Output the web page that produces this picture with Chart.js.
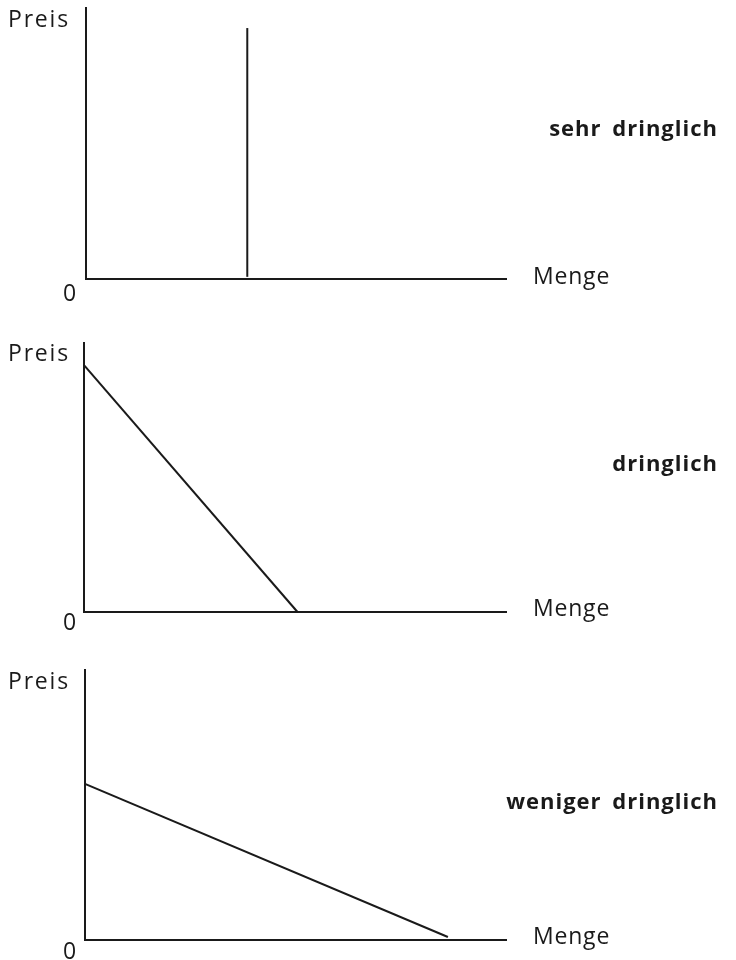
<!DOCTYPE html>
<html>
<head>
<meta charset="utf-8">
<script src="https://cdn.jsdelivr.net/npm/chart.js@4"></script>
<style>
  html, body { margin: 0; padding: 0; background: #fff; }
  #wrap { position: relative; width: 736px; height: 960px; overflow: hidden; }
  .cv { position: absolute; left: 0; }
  .lbl { position: absolute; font-family: "Open Sans", "DejaVu Sans", sans-serif; font-size: 23px; color: #1a1a1a; line-height: 23px; white-space: nowrap; transform: translateY(-50%); letter-spacing: 0.8px; }
  .pr { letter-spacing: 1.8px; }
  .ttl { font-weight: bold; font-size: 22px; letter-spacing: 1px; word-spacing: 4px; }
</style>
</head>
<body>
<div id="wrap"></div>
<script>
// ---- data (axis units: 0..100 on both axes) ----
const panelTitles = ["sehr dringlich", "dringlich", "weniger dringlich"];
const yAxisLabel = "Preis";
const xAxisLabel = "Menge";
const originLabel = "0";
const curve1X = [38.4, 38.4];
const curve1Y = [0.8, 92.6];
const curve2X = [0, 50.6];
const curve2Y = [91.8, 0];
const curve3X = [0, 86.2];
const curve3Y = [57.8, 1.1];

// ---- layout ----
const panels = [
  { x: curve1X, y: curve1Y, canvasTop: 0,   canvasH: 310, left: 86, right: 506, top: 8,   bottom: 279 },
  { x: curve2X, y: curve2Y, canvasTop: 320, canvasH: 320, left: 84, right: 506, top: 343, bottom: 612 },
  { x: curve3X, y: curve3Y, canvasTop: 650, canvasH: 310, left: 85, right: 506, top: 670, bottom: 940 }
];
const W = 736;
const ink = '#1a1a1a';
const wrap = document.getElementById('wrap');

function addLabel(text, x, y, cls, align) {
  const d = document.createElement('div');
  d.className = 'lbl' + (cls ? ' ' + cls : '');
  d.textContent = text;
  if (align === 'right') { d.style.right = (W - x) + 'px'; }
  else if (align === 'center') { d.style.left = x + 'px'; d.style.transform = 'translate(-50%,-50%)'; }
  else { d.style.left = x + 'px'; }
  d.style.top = y + 'px';
  wrap.appendChild(d);
}

panels.forEach((p, i) => {
  const c = document.createElement('canvas');
  c.className = 'cv';
  c.style.top = p.canvasTop + 'px';
  c.style.width = W + 'px';
  c.style.height = p.canvasH + 'px';
  c.width = W; c.height = p.canvasH;
  wrap.appendChild(c);
  const pts = p.x.map((v, k) => ({ x: v, y: p.y[k] }));
  const axisOpts = { type: 'linear', min: 0, max: 100, grid: { display: false, drawTicks: false, tickLength: 0 }, ticks: { display: false }, border: { display: true, color: ink, width: 2 } };
  new Chart(c, {
    type: 'scatter',
    data: { datasets: [{ data: pts, showLine: true, borderColor: ink, borderWidth: 2, pointRadius: 0, clip: false }] },
    options: {
      responsive: false, animation: false, devicePixelRatio: 1,
      layout: { padding: { left: p.left, right: W - p.right, top: p.top - p.canvasTop, bottom: p.canvasTop + p.canvasH - p.bottom } },
      plugins: { legend: { display: false }, tooltip: { enabled: false } },
      scales: {
        x: Object.assign({}, axisOpts),
        y: Object.assign({}, axisOpts)
      }
    }
  });
});

// text labels
const preisY = [18, 352, 680];
const zeroY = [292, 621, 950];
const mengeY = [275, 607, 935];
const titleY = [127, 462, 800];
for (let i = 0; i < 3; i++) {
  addLabel(yAxisLabel, 8, preisY[i], 'pr', 'left');
  addLabel(originLabel, 70, zeroY[i], '', 'center');
  addLabel(xAxisLabel, 533, mengeY[i], '', 'left');
  addLabel(panelTitles[i], 718, titleY[i], 'ttl', 'right');
}
</script>
</body>
</html>
